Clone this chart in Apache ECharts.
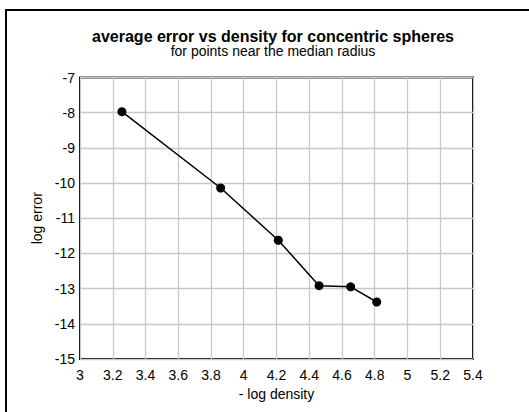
<!DOCTYPE html>
<html>
<head>
<meta charset="utf-8">
<script src="https://cdn.jsdelivr.net/npm/echarts@6/dist/echarts.min.js"></script>
<style>
  html, body { margin: 0; padding: 0; background: #fff; }
  #chart { width: 529px; height: 412px; }
</style>
</head>
<body>
<div id="chart"></div>
<script>
// data
var logDensity = [3.256, 3.859, 4.211, 4.46, 4.653, 4.812];
var logError = [-7.97, -10.14, -11.625, -12.915, -12.95, -13.38];
var titleText = 'average error vs density for concentric spheres';
var subtitleText = 'for points near the median radius';

var font = 'Liberation Sans, Arial, sans-serif';
var chart = echarts.init(document.getElementById('chart'), null, { renderer: 'svg' });

chart.setOption({
  animation: false,
  backgroundColor: '#fff',
  title: {
    text: titleText,
    subtext: subtitleText,
    left: 273, top: 28, textAlign: 'center',
    itemGap: 0,
    padding: 0,
    textStyle: { fontFamily: font, fontSize: 16, fontWeight: 'bold', color: '#000' },
    subtextStyle: { fontFamily: font, fontSize: 14, color: '#000' }
  },
  graphic: [{
    type: 'rect',
    shape: { x: 6, y: 10, width: 600, height: 500 },
    style: { fill: 'none', stroke: '#000', lineWidth: 2 },
    silent: true
  }],
  grid: { left: 80, top: 77.5, right: 56, bottom: 53, show: true, borderColor: '#000', borderWidth: 2 },
  xAxis: {
    type: 'value',
    min: 3, max: 5.4, interval: 0.2,
    name: '- log density',
    nameLocation: 'middle', nameGap: 26,
    nameTextStyle: { fontFamily: font, fontSize: 14, color: '#000' },
    axisLine: { show: false },
    axisTick: { show: false },
    axisLabel: {
      fontFamily: font, fontSize: 14, color: '#000', margin: 9,
      formatter: function (v) { return +v.toFixed(1) + ''; }
    },
    splitLine: { lineStyle: { color: '#c8c8c8', width: 1.3 } }
  },
  yAxis: {
    type: 'value',
    min: -15, max: -7, interval: 1,
    name: 'log error',
    nameLocation: 'middle', nameGap: 35,
    nameTextStyle: { fontFamily: font, fontSize: 14, color: '#000' },
    axisLine: { show: false },
    axisTick: { show: false },
    axisLabel: { fontFamily: font, fontSize: 14, color: '#000', margin: 5 },
    splitLine: { lineStyle: { color: '#c8c8c8', width: 1.3 } }
  },
  series: [{
    type: 'line',
    data: logDensity.map(function (x, i) { return [x, logError[i]]; }),
    symbol: 'circle', symbolSize: 9,
    lineStyle: { color: '#000', width: 1.5 },
    itemStyle: { color: '#000' }
  }]
});
</script>
</body>
</html>
